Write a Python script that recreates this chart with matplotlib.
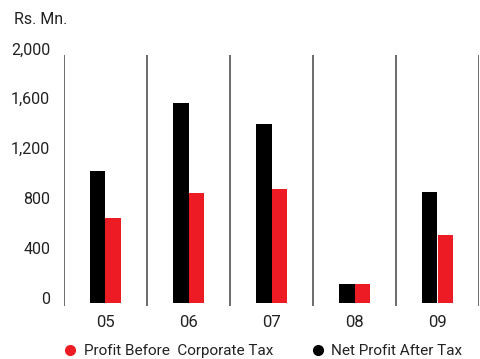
import matplotlib.pyplot as plt
import numpy as np
from matplotlib.lines import Line2D
from matplotlib.transforms import ScaledTranslation

plt.rcParams['font.family'] = ['Roboto', 'DejaVu Sans']

years = ["05", "06", "07", "08", "09"]
net_profit = [1055, 1600, 1435, 150, 885]     # black bars
profit_before = [680, 880, 910, 150, 540]     # red bars
yticks = [0, 400, 800, 1200, 1600, 2000]

RED = "#ed1c24"
BLACK = "#000000"
LINE = "#444444"

fig = plt.figure(figsize=(4.81, 3.59), dpi=100)
W, H = 481, 359

# axes placed in pixel terms: zero at y=302.5, 2000 at y=53.5
y0, y2000 = 302.5, 53.5
ppu = (y0 - y2000) / 2000
ymin = -25
bottom_px = y0 - ymin * ppu
ax = fig.add_axes([64 / W, (H - bottom_px) / H, (479 - 64) / W, (bottom_px - y2000) / H])
ax.set_ylim(ymin, 2000)
ax.set_xlim(0, 5)

x = np.arange(len(years)) + 0.5
w = 0.188
ax.bar(x - w / 2, net_profit, width=w, color=BLACK, zorder=3)
ax.bar(x + w / 2, profit_before, width=w, color=RED, zorder=3)

# vertical separators between years
ax.vlines(np.arange(len(years) + 1), ymin, 1985, colors=LINE, linewidth=1.1, zorder=2)

for s in ax.spines.values():
    s.set_visible(False)

ax.set_yticks(yticks)
ax.set_yticklabels([f"{v:,}" for v in yticks], fontsize=11.5, color="#222222")
ax.tick_params(axis="y", length=0, pad=10)
for lab in ax.get_yticklabels():
    lab.set_transform(lab.get_transform() + ScaledTranslation(0, 5 / 100, fig.dpi_scale_trans))

ax.set_xticks(x)
ax.set_xticklabels(years, fontsize=12, color="#222222")
ax.tick_params(axis="x", length=0, pad=7)

fig.text(14 / W, 1 - 20 / H, "Rs. Mn.", fontsize=11.5, color="#222222", va="center", ha="left")

handles = [
    Line2D([], [], linestyle="none", marker="o", markersize=7, color=RED),
    Line2D([], [], linestyle="none", marker="o", markersize=7, color=BLACK),
]
fig.legend(handles, ["Profit Before  Corporate Tax", "Net Profit After Tax"],
           loc="center left", bbox_to_anchor=(64 / W, 1 - 351 / H), ncol=2,
           frameon=False, fontsize=11, handlelength=0.8, handletextpad=0.5,
           columnspacing=2.5, borderaxespad=0, borderpad=0, labelcolor="#222222")

fig.savefig("out.png", dpi=100)
